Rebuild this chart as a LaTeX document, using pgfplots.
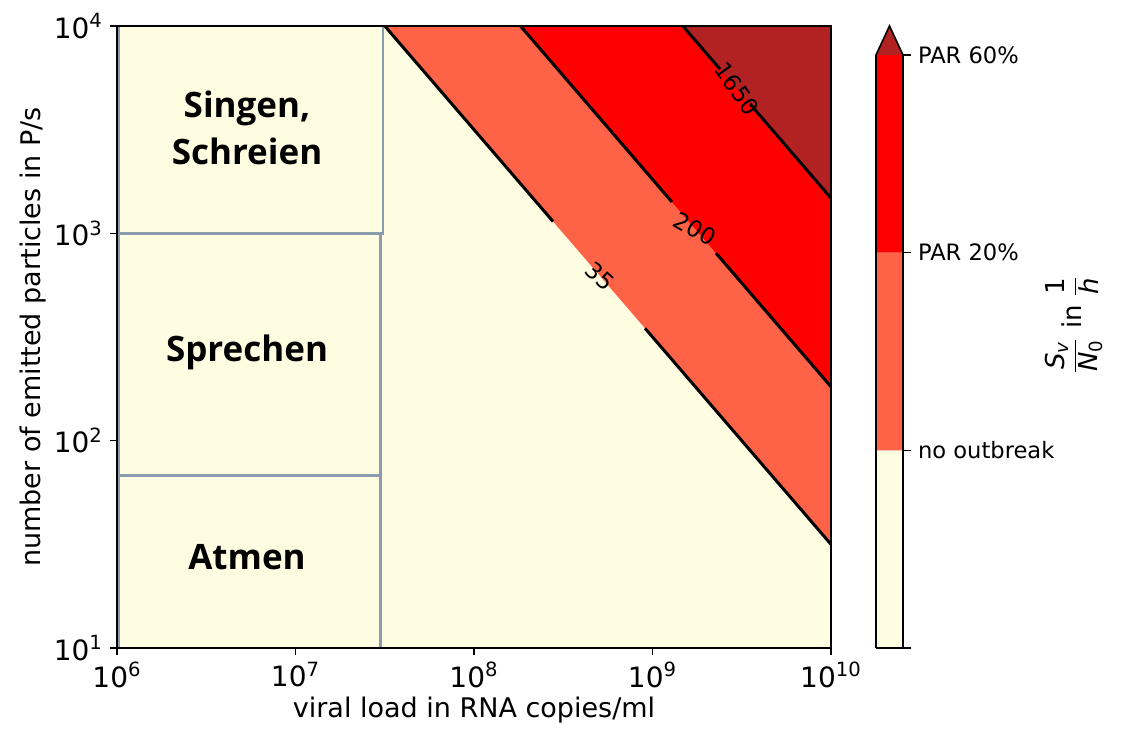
\documentclass[border=0pt]{standalone}
\usepackage{amsmath}
\usepackage{pgfplots}
\pgfplotsset{compat=1.18}
\usepackage{fontspec}
\setmainfont{DejaVu Sans}
\newfontfamily\boxfont{Open Sans}
\definecolor{lyel}{HTML}{FFFDE1}
\definecolor{tomatoc}{HTML}{FF6347}
\definecolor{redc}{HTML}{FF0000}
\definecolor{firec}{HTML}{B22222}
\definecolor{boxc}{HTML}{8A9DAF}
\begin{document}
\begin{tikzpicture}
\useasboundingbox (-58.5pt,-42.5pt) rectangle (504.5pt,324pt);
\begin{axis}[
  at={(0pt,0pt)}, anchor=south west,
  scale only axis, width=357pt, height=311pt,
  xmode=log, ymode=log, log basis x=10, log basis y=10,
  xmin=1e6, xmax=1e10, ymin=10, ymax=1e4,
  xtick={1e6,1e7,1e8,1e9,1e10},
  xticklabels={10\textsuperscript{6},10\textsuperscript{7},10\textsuperscript{8},10\textsuperscript{9},10\textsuperscript{10}},
  ytick={1e1,1e2,1e3,1e4},
  yticklabels={10\textsuperscript{1},10\textsuperscript{2},10\textsuperscript{3},10\textsuperscript{4}},
  xtick pos=left, ytick pos=left,
  tick align=outside, major tick length=3.5pt, minor tick length=2pt,
  every tick/.style={black, line width=0.6pt},
  axis background/.style={fill=lyel},
  axis on top,
  axis line style={line width=0.8pt},
  xlabel={viral load in RNA copies/ml},
  ylabel={number of emitted particles in P/s},
  label style={font=\fontsize{13.5}{16}\selectfont},
  tick label style={font=\fontsize{14}{16}\selectfont},
  xlabel style={yshift=2pt},
  ylabel style={yshift=-3pt},
]
\addplot[fill=tomatoc, draw=none] coordinates {(3.162e7,1e4) (1e10,31.62) (1e10,1e4) (3.162e7,1e4)};
\addplot[fill=redc, draw=none] coordinates {(1.82e8,1e4) (1e10,181.97) (1e10,1e4) (1.82e8,1e4)};
\addplot[fill=firec, draw=none] coordinates {(1.479e9,1e4) (1e10,1479) (1e10,1e4) (1.479e9,1e4)};
% contour lines
\addplot[black, line width=1.5pt] coordinates {(3.162e7,1e4) (2.773e8,1140)};
\addplot[black, line width=1.5pt] coordinates {(9.078e8,348.3) (1e10,31.62)};
\addplot[black, line width=1.5pt] coordinates {(1.82e8,1e4) (1.285e9,1416)};
\addplot[black, line width=1.5pt] coordinates {(2.270e9,801.7) (1e10,181.97)};
\addplot[black, line width=1.5pt] coordinates {(1.479e9,1e4) (2.388e9,6194)};
\addplot[black, line width=1.5pt] coordinates {(3.516e9,4207) (1e10,1479)};
\node[rotate=-42, font=\fontsize{11.5}{13}\selectfont] at (axis cs:5.08e8,622) {35};
\node[rotate=-30, font=\fontsize{11.5}{13}\selectfont] at (axis cs:1.73e9,1052) {200};
\node[rotate=-55, font=\fontsize{11.5}{13}\selectfont] at (axis cs:2.972e9,4977) {1650};
% activity boxes
\addplot[fill=lyel, draw=boxc, line width=1.2pt] coordinates {(1.02e6,10) (3.0e7,10) (3.0e7,68) (1.02e6,68) (1.02e6,10)};
\addplot[fill=lyel, draw=boxc, line width=1.2pt] coordinates {(1.02e6,68) (3.0e7,68) (3.0e7,1000) (1.02e6,1000) (1.02e6,68)};
\addplot[fill=lyel, draw=boxc, line width=1.2pt] coordinates {(1.02e6,1000) (3.09e7,1000) (3.09e7,1e4) (1.02e6,1e4) (1.02e6,1000)};
\node[font=\boxfont\bfseries\fontsize{17.5}{23.5}\selectfont, align=center] at (axis cs:5.35e6,3221) {Singen,\\Schreien};
\node[font=\boxfont\bfseries\fontsize{17.5}{23.5}\selectfont] at (axis cs:5.35e6,267) {Sprechen};
\node[font=\boxfont\bfseries\fontsize{17.5}{23.5}\selectfont] at (axis cs:5.35e6,27.4) {Atmen};
\end{axis}
\begin{axis}[
  at={(379.5pt,0pt)}, anchor=south west,
  scale only axis, width=13.5pt, height=296.5pt,
  xmin=0, xmax=1, ymin=0, ymax=3, clip=false,
  axis line style={draw=none},
  xtick=\empty,
  ytick={0,1,2,3},
  yticklabels={,no outbreak,PAR 20\%,PAR 60\%},
  ytick pos=right, tick align=outside, major tick length=4pt,
  every tick/.style={black, line width=0.6pt},
  tick label style={font=\fontsize{11.3}{13}\selectfont},
  ylabel={$\dfrac{\text{\itshape S}_{\text{\itshape v}}}{\text{\itshape N}_{\text{0}}}$ in $\dfrac{\text{1}}{\text{\itshape h}}$},
  ylabel style={at={(axis description cs:7.35,0.545)}, anchor=center, rotate=0, font=\fontsize{13}{15}\selectfont},
]
\addplot[fill=lyel, draw=none] coordinates {(0,0) (1,0) (1,1) (0,1) (0,0)};
\addplot[fill=tomatoc, draw=none] coordinates {(0,1) (1,1) (1,2) (0,2) (0,1)};
\addplot[fill=redc, draw=none] coordinates {(0,2) (1,2) (1,3) (0,3) (0,2)};
\addplot[fill=firec, draw=none] coordinates {(0,3) (1,3) (0.5,3.147) (0,3)};
\addplot[black, line width=0.8pt] coordinates {(0,0) (1,0) (1,3) (0.5,3.147) (0,3) (0,0)};
\end{axis}
\end{tikzpicture}
\end{document}
